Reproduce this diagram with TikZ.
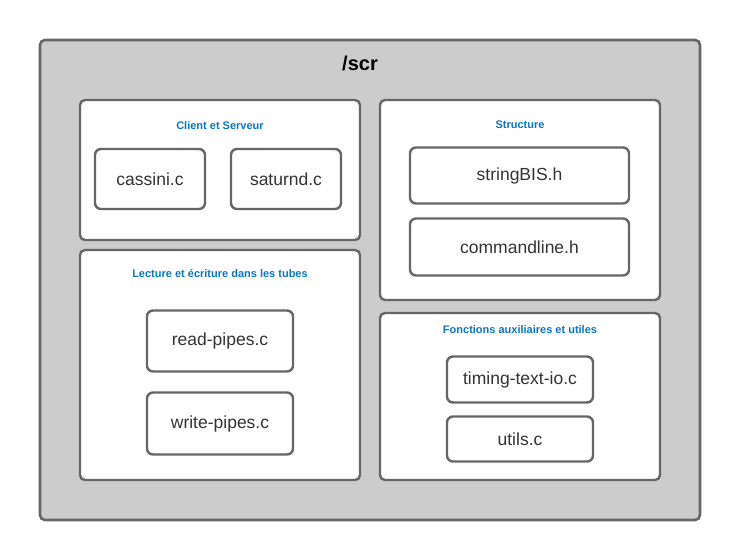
\documentclass[tikz,border=0pt]{standalone}
\usepackage{fontspec}
\setmainfont{Liberation Sans}
\usepackage{tikz}
\usetikzlibrary{positioning}
\definecolor{boxgray}{HTML}{CCCCCC}
\definecolor{linegray}{HTML}{666666}
\definecolor{titleblue}{HTML}{0A78BE}
\definecolor{textdark}{HTML}{333333}
\tikzset{
  dirbox/.style={draw=linegray, fill=boxgray, line width=2.6pt, rounded corners=5pt},
  groupbox/.style={draw=linegray, fill=white, line width=2.4pt, rounded corners=5pt},
  filebox/.style={draw=linegray, fill=white, line width=2.4pt, rounded corners=6pt, text=textdark, font=\fontsize{17.5}{20}\selectfont},
  grouptitle/.style={text=titleblue, font=\bfseries\fontsize{11}{13}\selectfont}}
\begin{document}
\begin{tikzpicture}[x=1pt,y=-1pt]
\useasboundingbox (0,0) rectangle (740,560);
\node[dirbox, minimum width=660, minimum height=480] (scr) at (370,280) {};
\node[font=\bfseries\fontsize{20}{24}\selectfont] (scrtitle) at (360,63) {/scr};
\foreach \n/\x/\y/\w/\h/\t/\ty in {
  client/220/170/280/140/Client et Serveur/125.5,
  tubes/220/365/280/230/Lecture et écriture dans les tubes/273.5,
  struct/520/200/280/200/Structure/124.5,
  aux/520/396.5/280/167/Fonctions auxiliaires et utiles/329.5} {
  \node[groupbox, minimum width=\w, minimum height=\h] (\n) at (\x,\y) {};
  \node[grouptitle] (\n-title) at (\x,\ty) {\t};
}
\foreach \n/\x/\y/\w/\h/\t in {
  cassini/150/179/110/60/cassini.c,
  saturnd/286/179/110/60/saturnd.c,
  readpipes/220/341/146/61/read-pipes.c,
  writepipes/220/423.5/146/62/write-pipes.c,
  stringbis/519.5/175.5/219/56/stringBIS.h,
  commandline/519.5/247/219/57/commandline.h,
  timing/520/379.5/146/46/timing-text-io.c,
  utils/520/439/146/45/utils.c} {
  \node[filebox, minimum width=\w, minimum height=\h] (\n) at (\x,\y) {\t};
}
\end{tikzpicture}
\end{document}
